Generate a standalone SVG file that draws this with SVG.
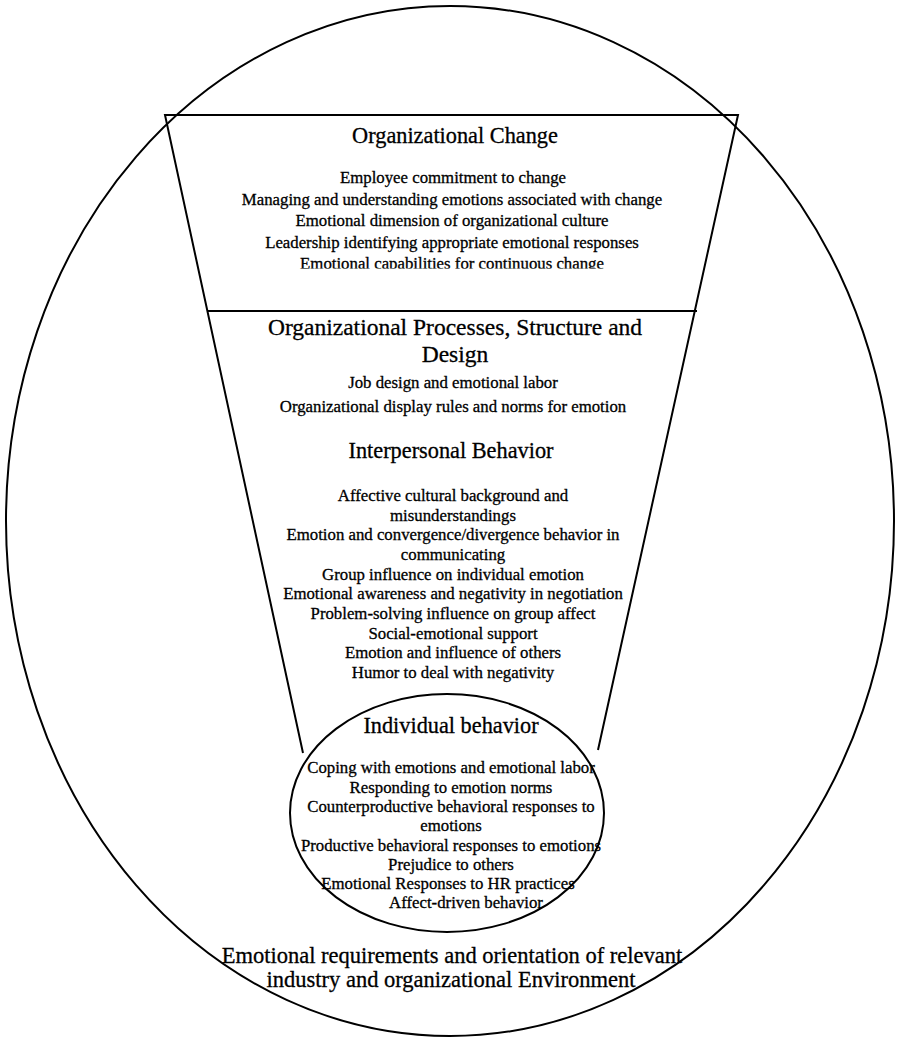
<svg xmlns="http://www.w3.org/2000/svg" width="899" height="1039" viewBox="0 0 899 1039">
  <style>
    .ln { fill: none; stroke: #000; stroke-width: 2; }
    text { font-family: "Liberation Serif", "Times New Roman", serif; fill: #000; stroke: #000; stroke-width: 0.3; text-anchor: middle; }
    .head { font-size: 22.3px; }
    .body { font-size: 16.8px; }
  </style>
  <defs>
    <clipPath id="changeClip">
      <rect x="150" y="110" width="600" height="158.5"/>
    </clipPath>
  </defs>
  <rect x="0" y="0" width="899" height="1039" fill="#fff"/>

  <!-- Outer environment ellipse -->
  <g id="environment">
    <ellipse class="ln" cx="450" cy="521" rx="444" ry="515"/>
    <text class="head" style="font-size:22.5px" x="452" y="963">Emotional requirements and orientation of relevant</text>
    <text class="head" style="font-size:22.5px" x="451" y="987">industry and organizational Environment</text>
  </g>

  <!-- Funnel outline -->
  <g id="funnel">
    <path class="ln" d="M303,753 L165,115 L738,115 L598,750"/>
    <line class="ln" x1="208" y1="311" x2="697" y2="311"/>
  </g>

  <!-- Top band -->
  <g id="organizational-change">
    <text class="head" x="455" y="143">Organizational Change</text>
    <g clip-path="url(#changeClip)">
      <text class="body" x="453" y="183">Employee commitment to change</text>
      <text class="body" x="452" y="205">Managing and understanding emotions associated with change</text>
      <text class="body" x="452" y="226">Emotional dimension of organizational culture</text>
      <text class="body" x="452" y="248">Leadership identifying appropriate emotional responses</text>
      <text class="body" x="452" y="269">Emotional capabilities for continuous change</text>
    </g>
  </g>

  <!-- Middle band: processes and structure -->
  <g id="org-processes">
    <text class="head" style="font-size:23.5px" x="455" y="335">Organizational Processes, Structure and</text>
    <text class="head" style="font-size:23.5px" x="455" y="362">Design</text>
    <text class="body" x="453" y="388">Job design and emotional labor</text>
    <text class="body" x="453" y="412">Organizational display rules and norms for emotion</text>
  </g>

  <!-- Middle band: interpersonal behaviour -->
  <g id="interpersonal">
    <text class="head" x="451" y="458">Interpersonal Behavior</text>
    <text class="body" x="453" y="501">Affective cultural background and</text>
    <text class="body" x="453" y="521">misunderstandings</text>
    <text class="body" x="453" y="540">Emotion and convergence/divergence behavior in</text>
    <text class="body" x="453" y="560">communicating</text>
    <text class="body" x="453" y="580">Group influence on individual emotion</text>
    <text class="body" x="453" y="599">Emotional awareness and negativity in negotiation</text>
    <text class="body" x="453" y="619">Problem-solving influence on group affect</text>
    <text class="body" x="453" y="639">Social-emotional support</text>
    <text class="body" x="453" y="658">Emotion and influence of others</text>
    <text class="body" x="453" y="678">Humor to deal with negativity</text>
  </g>

  <!-- Inner ellipse: individual behaviour -->
  <g id="individual">
    <ellipse class="ln" cx="447" cy="813" rx="157" ry="119"/>
    <text class="head" x="451" y="733">Individual behavior</text>
    <text class="body" x="451" y="773">Coping with emotions and emotional labor</text>
    <text class="body" x="451" y="793">Responding to emotion norms</text>
    <text class="body" x="451" y="812">Counterproductive behavioral responses to</text>
    <text class="body" x="451" y="831">emotions</text>
    <text class="body" x="451" y="851">Productive behavioral responses to emotions</text>
    <text class="body" x="451" y="870">Prejudice to others</text>
    <text class="body" x="448" y="889">Emotional Responses to HR practices</text>
    <text class="body" x="466" y="908">Affect-driven behavior</text>
  </g>
</svg>
